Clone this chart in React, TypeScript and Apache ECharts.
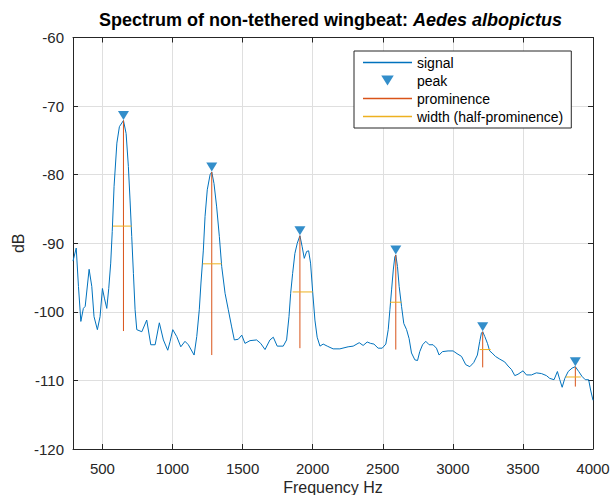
import React, { useEffect, useRef } from "react";
import * as echarts from "echarts";

const FONT = "'Liberation Sans', Arial, Helvetica, sans-serif";

const signalFreq = [
  290, 313, 329, 346, 364, 377, 405, 424, 440, 464, 483, 500, 514, 531, 545, 559, 570, 583, 603, 621,
  650, 669, 685, 697, 709, 721, 733, 745, 781, 816, 845, 876, 906, 935, 966, 983, 1002, 1030, 1059, 1089,
  1113, 1154, 1173, 1191, 1203, 1220, 1232, 1248, 1268, 1280, 1296, 1315, 1334, 1351, 1375, 1398, 1422, 1441, 1469, 1494,
  1517, 1553, 1600, 1629, 1660, 1695, 1719, 1747, 1790, 1814, 1831, 1843, 1857, 1873, 1890, 1909, 1925, 1940, 1957, 1971,
  1985, 2000, 2016, 2032, 2052, 2075, 2104, 2146, 2194, 2253, 2289, 2332, 2360, 2389, 2413, 2437, 2467, 2496, 2522, 2539,
  2551, 2563, 2575, 2586, 2593, 2605, 2617, 2634, 2650, 2670, 2688, 2705, 2729, 2748, 2764, 2784, 2807, 2831, 2859, 2883,
  2902, 2926, 2966, 3002, 3030, 3062, 3092, 3121, 3149, 3175, 3192, 3204, 3213, 3228, 3247, 3263, 3280, 3304, 3335, 3370,
  3394, 3418, 3442, 3465, 3501, 3525, 3561, 3596, 3632, 3668, 3691, 3722, 3746, 3763, 3780, 3799, 3823, 3851, 3874, 3898,
  3921, 3945, 3969, 3983, 4000,
];
const signalDb = [
  -92.6, -90.7, -96.3, -101.4, -99.5, -99.2, -93.8, -96.3, -100.7, -102.6, -100.7, -96.6, -98.0, -99.5, -96.6, -92.9, -88.3, -81.7, -75.4, -73.0,
  -72.1, -74.0, -78.8, -83.7, -89.0, -94.4, -99.7, -102.6, -102.9, -101.2, -104.8, -104.8, -101.6, -104.1, -105.6, -104.3, -102.6, -103.6, -105.1, -104.3,
  -104.8, -106.3, -103.6, -99.7, -95.8, -91.0, -86.1, -82.2, -80.0, -79.6, -81.3, -84.7, -89.0, -93.4, -97.3, -99.7, -102.2, -104.1, -104.0, -103.4,
  -104.6, -104.2, -104.1, -104.6, -105.5, -104.1, -103.7, -105.0, -105.0, -104.1, -100.7, -97.3, -94.4, -91.5, -90.0, -88.9, -90.5, -92.2, -91.2, -91.1,
  -92.9, -97.1, -101.2, -103.7, -105.0, -104.7, -105.0, -105.4, -105.4, -105.1, -105.0, -104.5, -104.9, -104.4, -104.6, -104.7, -105.3, -105.3, -104.7, -102.6,
  -99.7, -96.8, -93.9, -92.0, -91.7, -93.4, -96.3, -99.2, -101.7, -102.6, -103.9, -106.0, -107.0, -107.1, -105.8, -104.8, -104.3, -104.8, -104.8, -105.3,
  -106.3, -105.8, -105.7, -105.7, -106.1, -106.5, -107.7, -108.0, -107.4, -106.3, -104.3, -103.1, -102.9, -103.6, -104.6, -105.7, -106.0, -106.5, -106.9, -107.3,
  -107.9, -108.4, -109.3, -109.1, -108.6, -109.2, -109.2, -108.9, -109.0, -109.3, -109.7, -109.9, -108.7, -109.9, -111.0, -109.7, -108.7, -108.2, -108.0, -108.7,
  -109.4, -109.9, -109.9, -111.4, -112.9,
];

const peakFreq = [650, 1280, 1909, 2593, 3213, 3874];
const peakDb = [-72.1, -79.6, -88.9, -91.7, -102.9, -108.0];
const prominenceBaseDb = [-102.8, -106.3, -105.3, -105.5, -108.1, -110.9];
const widthLeftFreq = [574, 1216, 1857, 2551, 3192, 3806];
const widthRightFreq = [709, 1351, 2000, 2634, 3270, 3913];
const widthDb = [-87.5, -93.0, -97.1, -98.6, -105.5, -109.5];

const xTickValues = [500, 1000, 1500, 2000, 2500, 3000, 3500, 4000];

const BLUE = "#0072BD";
const ORANGE = "#D95319";
const YELLOW = "#EDB120";
const AXIS = "#262626";
const GRID = "#dfdfdf";
const TRI = "path://M0,0 L10,0 L5,8 Z";
const LINE_ICON = "path://M0,0 L100,0 L100,3 L0,3 Z";

export default function App() {
  const ref = useRef<HTMLDivElement>(null);
  useEffect(() => {
    if (!ref.current) return;
    const chart = echarts.init(ref.current, null, { renderer: "svg" });
    const signalData = signalFreq.map((f, i) => [f, signalDb[i]]);
    const peakData = peakFreq.map((f, i) => [f, peakDb[i]]);
    const promData: any[] = [];
    peakFreq.forEach((f, i) => {
      promData.push([f, peakDb[i]], [f, prominenceBaseDb[i]], [f, "-"]);
    });
    const widthData: any[] = [];
    widthLeftFreq.forEach((l, i) => {
      widthData.push([l, widthDb[i]], [widthRightFreq[i], widthDb[i]], [widthRightFreq[i], "-"]);
    });
    const tickCommon = { inside: true, length: 5, lineStyle: { color: AXIS } };
    chart.setOption({
      animation: false,
      backgroundColor: "#ffffff",
      textStyle: { fontFamily: FONT },
      title: {
        text: "{b|Spectrum of non-tethered wingbeat: }{bi|Aedes albopictus}",
        left: 94,
        top: 6,
        textStyle: {
          rich: {
            b: { fontFamily: FONT, fontSize: 18, fontWeight: "bold", color: "#000" },
            bi: { fontFamily: FONT, fontSize: 18, fontWeight: "bold", fontStyle: "italic", color: "#000" },
          },
        },
      },
      legend: {
        orient: "vertical",
        left: 354,
        top: 51,
        padding: [4, 8, 4, 9],
        itemWidth: 49,
        itemHeight: 10,
        itemGap: 3,
        borderColor: AXIS,
        borderWidth: 1,
        backgroundColor: "#ffffff",
        textStyle: { fontFamily: FONT, fontSize: 14, color: "#000", lineHeight: 15 },
        data: [
          { name: "signal", icon: LINE_ICON },
          { name: "peak", icon: TRI },
          { name: "prominence", icon: LINE_ICON },
          { name: "width (half-prominence)", icon: LINE_ICON },
        ],
      },
      grid: {
        left: 73,
        right: 18,
        top: 37.5,
        bottom: 46,
        containLabel: false,
        outerBoundsMode: "none",
      },
      xAxis: [
        {
          type: "value",
          min: 290,
          max: 4000,
          name: "Frequency Hz",
          nameLocation: "middle",
          nameGap: 30,
          nameMoveOverlap: false,
          nameTextStyle: { fontFamily: FONT, fontSize: 16, lineHeight: 16, color: AXIS },
          axisLine: { show: true, onZero: false, lineStyle: { color: AXIS } },
          axisTick: { ...tickCommon, customValues: xTickValues },
          axisLabel: {
            customValues: xTickValues,
            fontFamily: FONT,
            fontSize: 15,
            lineHeight: 15,
            color: AXIS,
            margin: 12,
            formatter: (v: number) => String(v),
          },
          splitLine: { show: true, lineStyle: { color: GRID } },
        },
        {
          type: "value",
          position: "top",
          min: 290,
          max: 4000,
          axisLine: { show: true, onZero: false, lineStyle: { color: AXIS } },
          axisTick: { ...tickCommon, customValues: xTickValues },
          axisLabel: { show: false },
          splitLine: { show: false },
        },
      ],
      yAxis: [
        {
          type: "value",
          min: -120,
          max: -60,
          interval: 10,
          name: "dB",
          nameLocation: "middle",
          nameGap: 47,
          nameMoveOverlap: false,
          nameTextStyle: { fontFamily: FONT, fontSize: 16, color: AXIS },
          axisLine: { show: true, onZero: false, lineStyle: { color: AXIS } },
          axisTick: tickCommon,
          axisLabel: { fontFamily: FONT, fontSize: 15, color: AXIS, margin: 9 },
          splitLine: { show: true, lineStyle: { color: GRID } },
        },
        {
          type: "value",
          position: "right",
          min: -120,
          max: -60,
          interval: 10,
          axisLine: { show: true, onZero: false, lineStyle: { color: AXIS } },
          axisTick: tickCommon,
          axisLabel: { show: false },
          splitLine: { show: false },
        },
      ],
      series: [
        {
          name: "signal",
          type: "line",
          data: signalData,
          symbol: "none",
          lineStyle: { color: BLUE, width: 1 },
          itemStyle: { color: BLUE },
          z: 2,
        },
        {
          name: "peak",
          type: "scatter",
          data: peakData,
          symbol: TRI,
          symbolSize: [11, 9],
          symbolOffset: [0, -5],
          itemStyle: { color: BLUE },
          z: 3,
        },
        {
          name: "prominence",
          type: "line",
          data: promData,
          symbol: "none",
          connectNulls: false,
          lineStyle: { color: ORANGE, width: 1 },
          itemStyle: { color: ORANGE },
          z: 4,
        },
        {
          name: "width (half-prominence)",
          type: "line",
          data: widthData,
          symbol: "none",
          connectNulls: false,
          lineStyle: { color: YELLOW, width: 1 },
          itemStyle: { color: YELLOW },
          z: 4,
        },
      ],
    });
    return () => chart.dispose();
  }, []);
  return (
    <div
      ref={ref}
      style={{ position: "fixed", left: 0, top: 0, width: 611, height: 495, background: "#fff" }}
    />
  );
}
